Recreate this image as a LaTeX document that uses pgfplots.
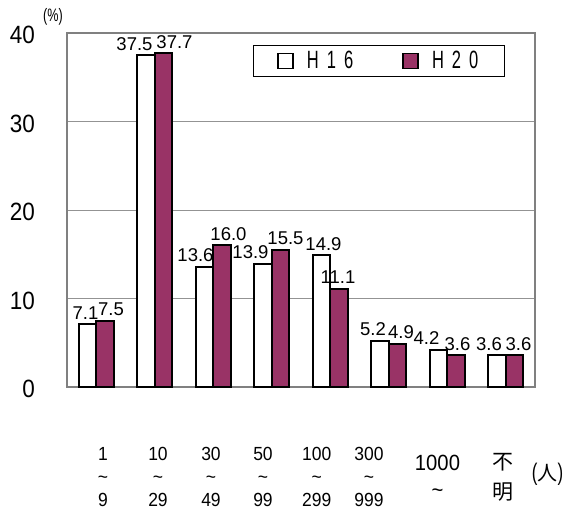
\documentclass[border=0pt]{standalone}
\usepackage{pgfplots}
\usepackage{pgfplotstable}
\pgfplotsset{compat=1.18}
\usepackage{fontspec}
\setmainfont{Liberation Sans}
\newfontfamily\narrow[FakeStretch=0.7]{Liberation Sans}
\newfontfamily\tickf[FakeStretch=0.92]{Liberation Sans}
\newfontfamily\yf[FakeStretch=0.9]{Liberation Sans}
\newfontfamily\legfont[FakeStretch=0.66]{Liberation Sans}
\newfontfamily\cjk{Noto Sans CJK JP}
\definecolor{plum}{HTML}{993366}
\newcommand{\tl}[1]{\begin{tabular}{@{}c@{}}#1\end{tabular}}
\newcommand{\td}{\textasciitilde}
\newcommand{\sh}[2]{\makebox[0pt]{\hspace*{#1}\hspace*{#1}#2}}
\pgfplotsset{ybar legend/.style={legend image code/.code={\draw[##1,line width=1.8pt] (0pt,-7.5pt) rectangle (15pt,7.5pt);}}}
\pgfplotstableread{
x y dx
0 7.1 -2
1 37.5 -11.5
2 13.6 -9
3 13.9 -12.5
4 14.9 2
5 5.2 -7
6 4.2 -12
7 3.6 -8
}\hsixteen
\pgfplotstableread{
x y dx
0 7.5 6
1 37.7 11
2 16.0 6.5
3 15.5 5
4 11.1 -1
5 4.9 3.5
6 3.6 1.5
7 3.6 4
}\htwenty
\begin{document}
\begin{tikzpicture}[x=1pt,y=1pt]
\useasboundingbox (0,0) rectangle (564,513);
\begin{axis}[
  at={(67pt,126pt)}, anchor=south west,
  width=468pt, height=354pt, scale only axis,
  xmin=-0.5, xmax=7.5, ymin=0, ymax=40,
  ytick={0,10,20,30,40},
  ymajorgrids, grid style={draw=gray!85, line width=0.9pt},
  axis line style={draw=gray, line width=1.1pt},
  xtick={0,...,7},
  xticklabels={
    {\sh{6.75pt}{\tl{1\\\td\\9}}},
    {\sh{3.25pt}{\tl{10\\\td\\29}}},
    {\sh{-2.25pt}{\tl{30\\\td\\49}}},
    {\sh{-8.75pt}{\tl{50\\\td\\99}}},
    {\sh{-13.5pt}{\tl{100\\\td\\299}}},
    {\sh{-19.75pt}{\tl{300\\\td\\999}}},
    {\sh{-9.75pt}{\fontsize{22}{27}\selectfont\tl{1000\\\td}}},
    {\sh{-2.75pt}{\raisebox{3pt}{\cjk\fontsize{21}{30}\selectfont\tl{不\\明}}}}},
  xticklabel style={font=\tickf\fontsize{19}{23}\selectfont, anchor=center, yshift=-87.5pt, inner sep=0pt},
  yticklabel style={font=\yf\fontsize{25}{25}\selectfont, anchor=east, inner sep=0pt, xshift=-32pt, yshift=-2pt},
  /pgf/number format/assume math mode=true,
  xtick style={draw=none}, ytick style={draw=none},
  ybar=0pt, bar width=17.5pt,
  nodes near coords,
  nodes near coords style={font=\fontsize{18.5}{18.5}\selectfont, inner sep=0pt, anchor=south, yshift=4pt,
     /pgf/number format/fixed, /pgf/number format/fixed zerofill, /pgf/number format/precision=1,
     /pgf/number format/assume math mode=true},
  legend columns=2,
  legend style={at={(rel axis cs:0.397,0.966)}, anchor=north west, draw=black, line width=0.8pt,
     font=\legfont\fontsize{25}{25}\selectfont, inner xsep=24pt, inner ysep=4pt,
     /tikz/every even column/.append style={column sep=47pt}},
  clip=false,
]
\addplot[fill=white, draw=black, line width=1.8pt,
  visualization depends on={\thisrow{dx} \as \dx},
  every node near coord/.append style={xshift=\dx}] table[x=x, y=y] {\hsixteen};
\addplot[fill=plum, draw=black, line width=1.8pt,
  visualization depends on={\thisrow{dx} \as \dx},
  every node near coord/.append style={xshift=\dx}] table[x=x, y=y] {\htwenty};
\legend{{\hspace{11pt}H\hspace{8pt}1\hspace{8pt}6},{\hspace{11pt}H\hspace{8pt}2\hspace{8pt}0}}
\node[font=\narrow\fontsize{18}{18}\selectfont, inner sep=0pt] at ([xshift=-14pt,yshift=16.5pt]rel axis cs:0,1) {(\%)};
\node[font=\narrow\fontsize{24}{24}\selectfont, inner sep=0pt] at ([xshift=12.5pt,yshift=-87.5pt]rel axis cs:1,0) {({\cjk\fontsize{20}{20}\selectfont 人})};
\end{axis}
\end{tikzpicture}
\end{document}
